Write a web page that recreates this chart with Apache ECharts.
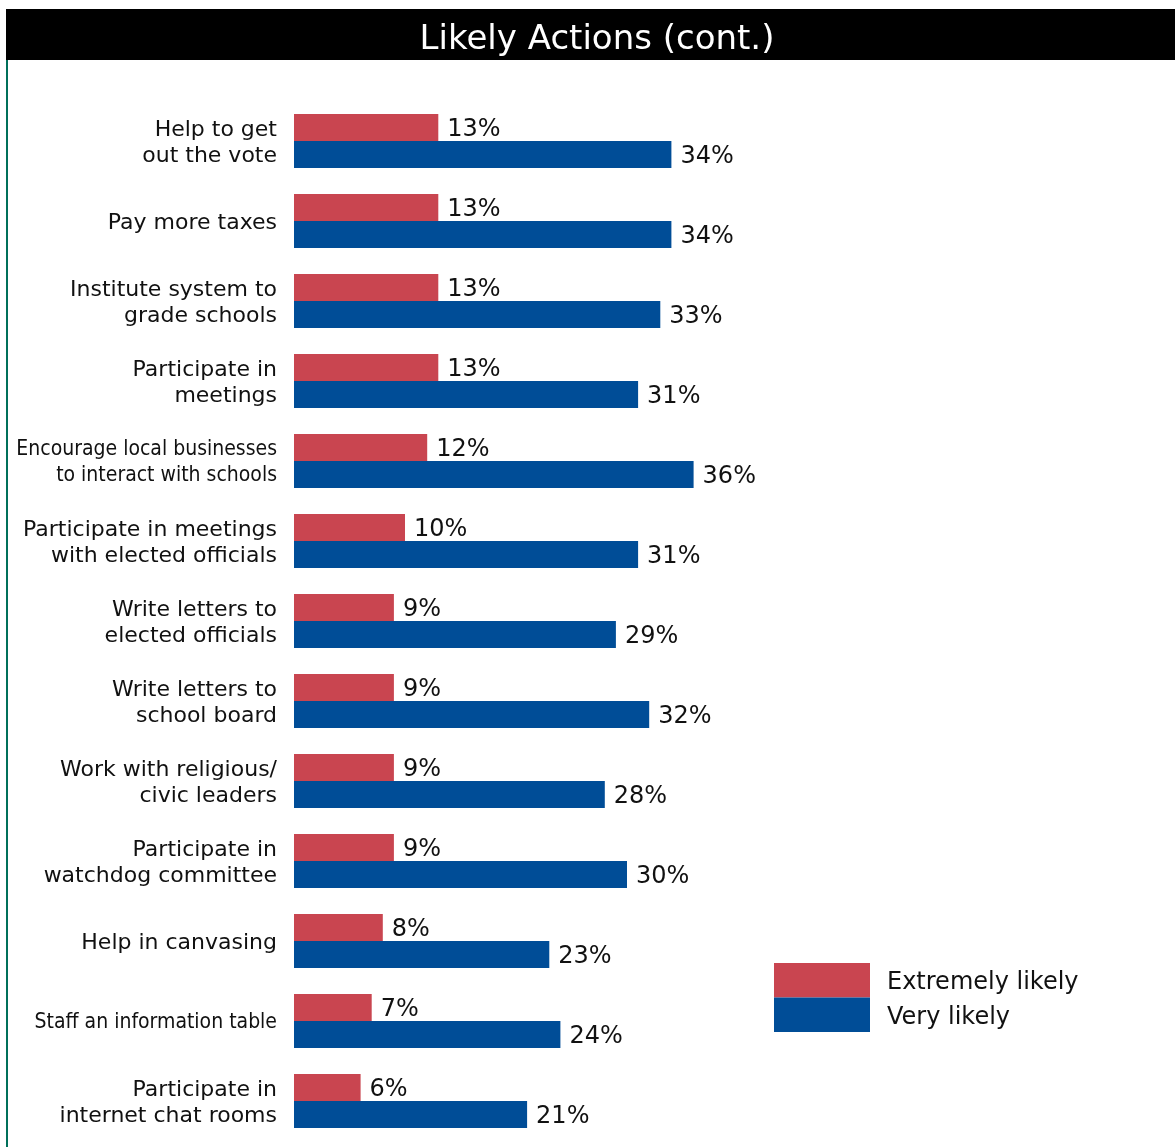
<!DOCTYPE html>
<html>
<head>
<meta charset="utf-8">
<title>Likely Actions (cont.)</title>
<script src="https://cdn.jsdelivr.net/npm/echarts@6/dist/echarts.min.js"></script>
<style>
  html, body { margin: 0; padding: 0; background: #ffffff; }
  #chart { width: 1175px; height: 1147px; }
</style>
</head>
<body>
<div id="chart"></div>
<script>
// Survey actions, top to bottom
const categories = [
  'Help to get\nout the vote',
  'Pay more taxes',
  'Institute system to\ngrade schools',
  'Participate in\nmeetings',
  'Encourage local businesses\nto interact with schools',
  'Participate in meetings\nwith elected officials',
  'Write letters to\nelected officials',
  'Write letters to\nschool board',
  'Work with religious/\ncivic leaders',
  'Participate in\nwatchdog committee',
  'Help in canvasing',
  'Staff an information table',
  'Participate in\ninternet chat rooms'
];

// Percent of respondents
const extremelyLikely = [13, 13, 13, 13, 12, 10, 9, 9, 9, 9, 8, 7, 6];
const veryLikely = [34, 34, 33, 31, 36, 31, 29, 32, 28, 30, 23, 24, 21];

const seriesNames = ['Extremely likely', 'Very likely'];

// Labels set in a condensed face
const narrowLabels = [
  'Encourage local businesses\nto interact with schools',
  'Staff an information table'
];

const chart = echarts.init(document.getElementById('chart'));

const baseFont = '"DejaVu Sans", Verdana, sans-serif';
const narrowFont = '"DejaVu Sans Condensed", "Liberation Sans", Arial, sans-serif';

const valueLabel = {
  show: true,
  position: 'right',
  distance: 9,
  offset: [0, 2],
  formatter: '{c}%',
  color: '#111111',
  fontFamily: baseFont,
  fontSize: 24
};

chart.setOption({
  animation: false,
  backgroundColor: '#ffffff',
  graphic: [
    {
      type: 'rect',
      shape: { x: 6, y: 9, width: 1169, height: 51 },
      style: { fill: '#000000' },
      silent: true
    },
    {
      type: 'rect',
      shape: { x: 6, y: 60, width: 2, height: 1087 },
      style: { fill: '#00705a' },
      silent: true
    }
  ],
  title: {
    text: 'Likely Actions (cont.)',
    left: 597,
    top: 23,
    textAlign: 'center',
    padding: 0,
    textStyle: {
      color: '#ffffff',
      fontFamily: baseFont,
      fontWeight: 'normal',
      fontSize: 34
    }
  },
  legend: {
    data: seriesNames.map(n => ({ name: n, icon: 'rect' })),
    orient: 'vertical',
    left: 774,
    top: 963,
    itemWidth: 96,
    itemHeight: 34.5,
    itemGap: 0,
    padding: 0,
    selectedMode: false,
    formatter: name => '{t|' + name + '}',
    textStyle: {
      color: '#111111',
      fontFamily: baseFont,
      fontSize: 24,
      rich: {
        t: {
          color: '#111111',
          fontFamily: baseFont,
          fontSize: 24,
          padding: [6, 0, 0, 12]
        }
      }
    }
  },
  grid: {
    left: 294,
    right: 104,
    top: 101,
    bottom: 6,
    containLabel: false,
    outerBoundsMode: 'none'
  },
  xAxis: {
    type: 'value',
    min: 0,
    max: 70,
    show: false
  },
  yAxis: {
    type: 'category',
    data: categories,
    inverse: true,
    axisLine: { show: false },
    axisTick: { show: false },
    splitLine: { show: false },
    axisLabel: {
      margin: 17,
      color: '#111111',
      fontFamily: baseFont,
      fontSize: 22,
      lineHeight: 26,
      padding: [4, 0, 0, 0],
      formatter: function (v) {
        if (narrowLabels.indexOf(v) >= 0) {
          return v.split('\n').map(s => '{n|' + s + '}').join('\n');
        }
        return v;
      },
      rich: {
        n: {
          fontFamily: narrowFont,
          fontSize: 21,
          lineHeight: 26,
          color: '#111111'
        }
      }
    }
  },
  series: [
    {
      name: seriesNames[0],
      type: 'bar',
      data: extremelyLikely,
      barWidth: 27,
      barGap: '0%',
      itemStyle: { color: '#c94550' },
      label: valueLabel
    },
    {
      name: seriesNames[1],
      type: 'bar',
      data: veryLikely,
      barWidth: 27,
      barGap: '0%',
      itemStyle: { color: '#004d97' },
      label: valueLabel
    }
  ]
});
</script>
</body>
</html>
